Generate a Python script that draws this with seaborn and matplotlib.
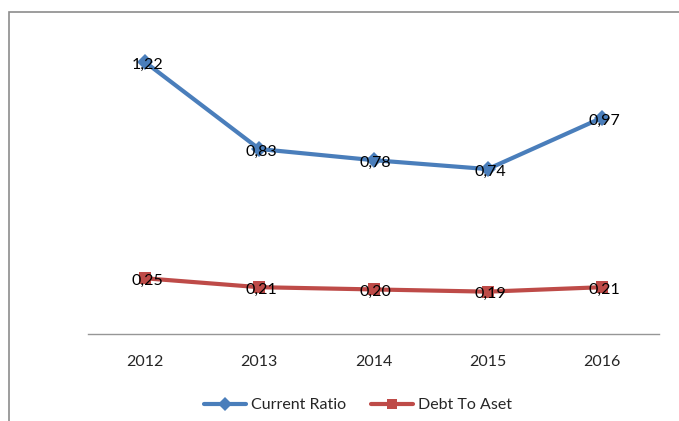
import matplotlib
matplotlib.use("Agg")
import matplotlib.pyplot as plt
import seaborn as sns
import pandas as pd
from matplotlib.patches import Rectangle
from matplotlib.lines import Line2D

years = ["2012", "2013", "2014", "2015", "2016"]
current_ratio = [1.22, 0.83, 0.78, 0.74, 0.97]
debt_to_aset = [0.25, 0.21, 0.20, 0.19, 0.21]
series_names = ["Current Ratio", "Debt To Aset"]

rows = []
for i, y in enumerate(years):
    rows.append({"pos": i, "year": y, "value": current_ratio[i], "series": series_names[0]})
for i, y in enumerate(years):
    rows.append({"pos": i, "year": y, "value": debt_to_aset[i], "series": series_names[1]})
df = pd.DataFrame(rows)

sns.set_theme(style="white")
plt.rcParams["font.family"] = ["Lato", "DejaVu Sans"]

fig = plt.figure(figsize=(6.79, 4.21), dpi=100)
ax = fig.add_axes([88/679, 1-334/421, (659-88)/679, (334-22)/421])

palette = {"Current Ratio": "#4A7EBB", "Debt To Aset": "#BE4B48"}
sns.lineplot(data=df, x="pos", y="value", hue="series", style="series",
             markers={"Current Ratio": "D", "Debt To Aset": "s"}, dashes=False,
             palette=palette, linewidth=3, markersize=8, markeredgewidth=0,
             ax=ax, legend=False)

fs = 11.5
for i in range(len(years)):
    ax.text(i + 0.02, current_ratio[i] - 0.012, f"{current_ratio[i]:.2f}".replace(".", ","),
            ha="center", va="center", fontsize=fs, color="black", zorder=5)
    ax.text(i + 0.02, debt_to_aset[i] - 0.012, f"{debt_to_aset[i]:.2f}".replace(".", ","),
            ha="center", va="center", fontsize=fs, color="black", zorder=5)

ax.set_xlim(-0.5, 4.5)
ax.set_ylim(0, 1.4)
ax.set_xticks(range(len(years)))
ax.set_xticklabels(years, fontsize=fs)
ax.tick_params(axis="x", length=0, pad=15)
ax.set_yticks([])
ax.set_xlabel("")
ax.set_ylabel("")
for s in ["top", "right", "left"]:
    ax.spines[s].set_visible(False)
ax.spines["bottom"].set_color("#969696")
ax.spines["bottom"].set_linewidth(1)

handles = [Line2D([], [], color=palette[n], marker=m, lw=3, markersize=7, markeredgewidth=0)
           for n, m in zip(series_names, ["D", "s"])]
fig.legend(handles, series_names, loc="center", bbox_to_anchor=(358/679, 1-405/421),
           ncol=2, frameon=False, fontsize=fs, handlelength=2.6, handletextpad=0.3,
           columnspacing=1.6)

fig.patches.append(Rectangle((9/679, -0.1), 1.2, 1.1 - 12/421, transform=fig.transFigure,
                             fill=False, edgecolor="#8C8C8C", linewidth=1.2))

fig.savefig("out.png", dpi=100)
